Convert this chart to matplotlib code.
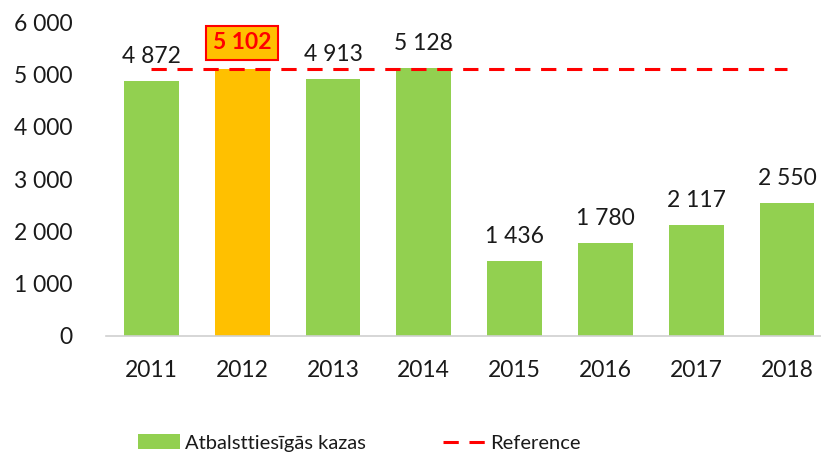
import matplotlib
matplotlib.use("Agg")
import matplotlib.pyplot as plt
from matplotlib.lines import Line2D
from matplotlib.patches import Patch

years = ["2011", "2012", "2013", "2014", "2015", "2016", "2017", "2018"]
values = [4872, 5102, 4913, 5128, 1436, 1780, 2117, 2550]
reference = [5102] * len(years)
highlight_index = 1
series_label = "Atbalsttiesīgās kazas"
ref_label = "Reference"
yticks = [0, 1000, 2000, 3000, 4000, 5000, 6000]

def fmt(v):
    return f"{v:,}".replace(",", " ")

plt.rcParams["font.family"] = ["Lato", "DejaVu Sans"]
FS = 16.5
LFS = 14.5
fig = plt.figure(figsize=(8.21, 4.55), dpi=100)
ax = fig.add_axes([106/821, 1-336/455, 8*90.8/821, (336-22.4)/455])

green = "#92D050"
orange = "#FFC000"
colors = [orange if i == highlight_index else green for i in range(len(values))]
x = list(range(len(years)))
ax.bar(x, values, width=0.605, color=colors, zorder=2)
ax.plot(x, reference, color="#FF0000", lw=2.2, dashes=(5, 3.5), zorder=3)

for i, v in enumerate(values):
    if i == highlight_index:
        ax.text(i, v + 504, fmt(v), ha="center", va="center", fontsize=FS,
                fontweight="bold", color="#FF0000",
                bbox=dict(boxstyle="square,pad=0.3", fc=orange, ec="#FF0000", lw=1.5),
                zorder=4)
    else:
        ax.text(i, v + 470, fmt(v), ha="center", va="center", fontsize=FS,
                color="#1a1a1a", zorder=4)

ax.set_xlim(-0.5, 7.5)
ax.set_ylim(0, 6000)
ax.set_yticks(yticks)
ax.set_yticklabels([fmt(t) for t in yticks])
ax.set_xticks(x)
ax.set_xticklabels(years)
ax.tick_params(axis="both", length=0, labelsize=FS, colors="#1a1a1a")
ax.tick_params(axis="y", pad=24)
ax.tick_params(axis="x", pad=17)
for s in ["top", "right", "left"]:
    ax.spines[s].set_visible(False)
ax.spines["bottom"].set_color("#D0D0D0")
ax.spines["bottom"].set_linewidth(1.2)

handles = [Patch(facecolor=green, edgecolor="none"),
           Line2D([0], [0], color="#FF0000", lw=2.2, dashes=(5, 3.5))]
fig.legend(handles, [series_label, ref_label], loc="center left",
           bbox_to_anchor=(138/821, 1-443/455), ncol=2, frameon=False,
           fontsize=LFS, handlelength=2.1, handleheight=0.7, columnspacing=3.8,
           handletextpad=0.25, labelcolor="#1a1a1a", borderaxespad=0,
           borderpad=0)

fig.savefig("out.png", dpi=100)
